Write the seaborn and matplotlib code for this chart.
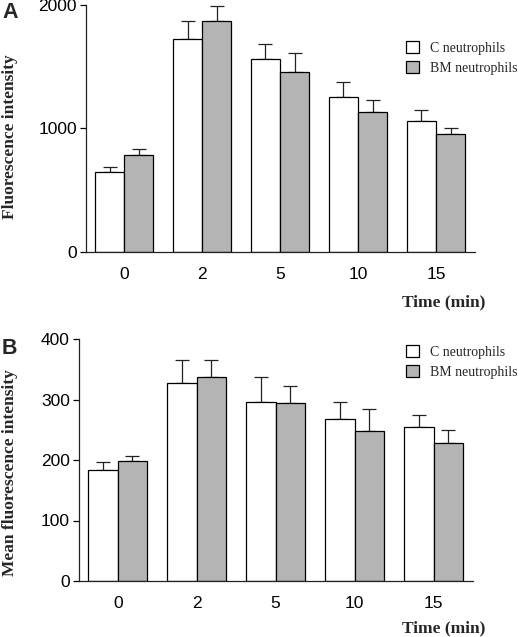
import matplotlib
matplotlib.use("Agg")
import matplotlib.pyplot as plt
import seaborn as sns
import pandas as pd
import numpy as np
from matplotlib.patches import Patch

times = ["0", "2", "5", "10", "15"]
groups = ["C neutrophils", "BM neutrophils"]

a_c_mean = [651, 1722, 1559, 1257, 1059]
a_c_err = [41, 148, 127, 119, 87]
a_bm_mean = [786, 1868, 1457, 1135, 954]
a_bm_err = [52, 127, 157, 95, 51]

b_c_mean = [183, 327, 296, 268, 254]
b_c_err = [13, 39, 42, 28, 20]
b_bm_mean = [199, 337, 294, 248, 228]
b_bm_err = [8, 29, 29, 37, 21]

colors = {"C neutrophils": "white", "BM neutrophils": "#b4b4b4"}

sns.set_style("white")
plt.rcParams["font.family"] = ["Liberation Sans", "DejaVu Sans"]

fig = plt.figure(figsize=(5.2, 6.37), dpi=100)
W, H = 520, 637

def axes_px(l, t, r, b):
    return fig.add_axes([l / W, 1 - b / H, (r - l) / W, (b - t) / H])

ax_a = axes_px(86, 5, 475, 252)
ax_b = axes_px(79, 339, 473, 581)

def panel(ax, c_mean, c_err, bm_mean, bm_err, ymax, yticks, ylabel, letter,
          lab_y, letter_y, time_y, leg_y):
    df = pd.DataFrame({
        "time": times * 2,
        "group": [groups[0]] * len(times) + [groups[1]] * len(times),
        "value": list(c_mean) + list(bm_mean),
    })
    errs = list(c_err) + list(bm_err)
    sns.barplot(data=df, x="time", y="value", hue="group", order=times,
                hue_order=groups, palette=colors, width=0.75, errorbar=None,
                edgecolor="black", linewidth=0.9, ax=ax, legend=False)
    bars = [p for p in ax.patches if p.get_height() > 0]
    xs = np.array([p.get_x() + p.get_width() / 2 for p in bars])
    hs = np.array([p.get_height() for p in bars])
    order_idx = [int(np.argmin(np.abs(hs - v))) for v in df["value"]]
    ex = xs[order_idx]
    ey = df["value"].values
    ax.errorbar(ex, ey, yerr=[np.zeros(len(errs)), errs], fmt="none",
                ecolor="#222222", elinewidth=0.9, capsize=5.2, capthick=0.9,
                zorder=0.5)
    for p in bars:
        p.set_zorder(2)
    ax.set_ylim(0, ymax)
    ax.set_xlim(-0.49, 4.5)
    ax.set_yticks(yticks)
    ax.set_yticklabels([str(t) for t in yticks])
    ax.set_xlabel("")
    ax.set_ylabel("")
    for s in ["top", "right"]:
        ax.spines[s].set_visible(False)
    for s in ["left", "bottom"]:
        ax.spines[s].set_color("#222222")
        ax.spines[s].set_linewidth(0.9)
    ax.tick_params(axis="x", length=0, pad=11, labelsize=12.5, colors="black")
    ax.tick_params(axis="y", length=4, width=0.9, pad=2.5, labelsize=12.5,
                   direction="out", left=True, colors="black")
    fig.text(10 / W, 1 - lab_y / H, ylabel, rotation=90, ha="center",
             va="center", family="Liberation Serif", weight="bold", fontsize=12.5)
    fig.text(2 / W, 1 - letter_y / H, letter, ha="left", va="center",
             weight="bold", fontsize=15.5)
    fig.text(444 / W, 1 - time_y / H, "Time (min)", ha="center", va="center",
             family="Liberation Serif", weight="bold", fontsize=12.5)
    handles = [Patch(facecolor=colors[g], edgecolor="black", linewidth=0.9)
               for g in groups]
    ax.legend(handles, groups, loc="center left",
              bbox_to_anchor=(406 / W, 1 - leg_y / H),
              bbox_transform=fig.transFigure, frameon=False,
              borderpad=0, borderaxespad=0,
              prop={"family": "Liberation Serif", "size": 10},
              handlelength=0.9, handleheight=0.9, handletextpad=0.85,
              labelspacing=0.45)

panel(ax_a, a_c_mean, a_c_err, a_bm_mean, a_bm_err, 2000, [0, 1000, 2000],
      "Fluorescence intensity", "A", 137, 12, 302, 58)
panel(ax_b, b_c_mean, b_c_err, b_bm_mean, b_bm_err, 400, [0, 100, 200, 300, 400],
      "Mean fluorescence intensity", "B", 473, 348, 628, 362)

fig.savefig("out.png", dpi=100)
